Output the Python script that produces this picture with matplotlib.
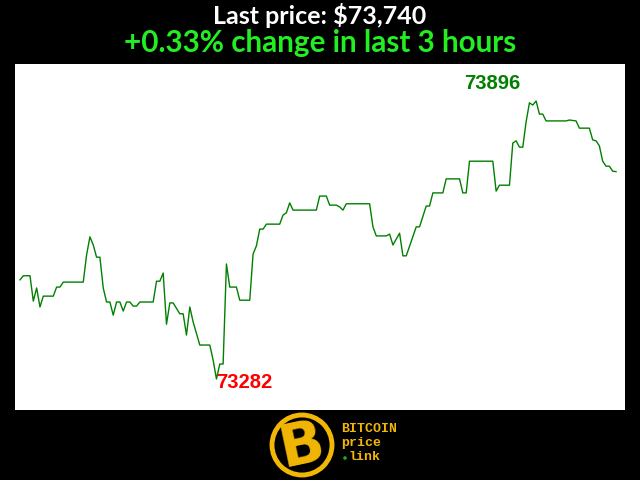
import matplotlib
matplotlib.use("Agg")
import matplotlib.pyplot as plt
from matplotlib.patches import Circle

# minutes since start (3 hours window) and BTC price
minutes = [0, 1, 3, 4, 5, 6, 7, 10, 11, 12, 13, 19, 20, 21, 22, 23, 24, 25, 26, 27,
           28, 29, 30, 31, 32, 33, 34, 35, 36, 40, 41, 42, 43, 44, 45, 46, 48, 49, 50, 51,
           52, 54, 57, 58, 59, 60, 61, 62, 63, 65, 66, 69, 70, 71, 72, 73, 74, 78, 79, 80,
           81, 82, 89, 90, 92, 93, 95, 96, 97, 98, 105, 106, 107, 110, 111, 112, 114, 115, 116, 119,
           120, 122, 123, 124, 127, 128, 132, 133, 134, 135, 142, 143, 144, 147, 148, 149, 150, 151, 152, 153,
           154, 155, 156, 157, 158, 164, 165, 167, 168, 171, 172, 173, 174, 175, 176, 177, 178, 179]
prices = [73501, 73510, 73510, 73454, 73483, 73441, 73465, 73465, 73485, 73485, 73496, 73496, 73556, 73596, 73578, 73551, 73551, 73483, 73452, 73452,
          73423, 73452, 73452, 73432, 73452, 73452, 73443, 73443, 73452, 73452, 73498, 73498, 73516, 73403, 73450, 73450, 73426, 73426, 73379, 73441,
          73408, 73357, 73357, 73324, 73282, 73315, 73315, 73536, 73485, 73485, 73456, 73456, 73558, 73576, 73613, 73613, 73624, 73624, 73644, 73649,
          73671, 73655, 73655, 73686, 73686, 73666, 73666, 73662, 73655, 73669, 73669, 73618, 73598, 73598, 73602, 73578, 73604, 73554, 73554, 73618,
          73618, 73664, 73664, 73693, 73693, 73724, 73724, 73693, 73693, 73763, 73763, 73697, 73710, 73710, 73803, 73808, 73794, 73794, 73850, 73892,
          73887, 73896, 73867, 73867, 73852, 73852, 73854, 73852, 73836, 73836, 73810, 73808, 73797, 73763, 73752, 73752, 73741, 73740]

title_line1 = "Last price: $73,740"
title_line2 = "+0.33% change in last 3 hours"
logo_lines = ["BITCOIN", "price", "link"]

W, H = 640, 480
fig = plt.figure(figsize=(W / 100, H / 100), dpi=100, facecolor="black")
ax = fig.add_axes([15 / W, 70 / H, 610 / W, 346 / H])
ax.set_facecolor("white")
ax.plot(minutes, prices, color="#008000", lw=1.0)
ax.set_xlim(-1.5, 181.7)
ax.set_ylim(73213.5, 73977.7)
ax.set_xticks([])
ax.set_yticks([])
for s in ax.spines.values():
    s.set_visible(False)

imax = prices.index(max(prices))
imin = prices.index(min(prices))
ax.annotate(str(max(prices)), (minutes[imax], prices[imax]), xytext=(-44, 17),
            textcoords="offset pixels", ha="center", va="center", color="#008000",
            fontsize=14.5, fontweight="bold", family="Liberation Sans")
ax.annotate(str(min(prices)), (minutes[imin], prices[imin]), xytext=(28, -4),
            textcoords="offset pixels", ha="center", va="center", color="#ff0000",
            fontsize=14.5, fontweight="bold", family="Liberation Sans")

fig.text(0.5, 1 - 16 / H, title_line1, ha="center", va="center", color="white",
         fontsize=18, fontweight="bold", family="Lato")
fig.text(0.5, 1 - 43 / H, title_line2, ha="center", va="center", color="#22ee22",
         fontsize=21.3, fontweight="bold", family="Lato")

# logo
orange = "#f2b705"
lax = fig.add_axes([0, 0, 1, 1], facecolor="none")
lax.set_xlim(0, W)
lax.set_ylim(H, 0)
lax.axis("off")
lax.add_patch(Circle((302, 445), 30, facecolor="none", edgecolor=orange, lw=3.5))
lax.text(302, 446, "B", ha="center", va="center", color=orange, fontsize=42,
         fontweight="bold", family="DejaVu Sans", rotation=12)
lax.text(341, 429, logo_lines[0], ha="left", va="center", color=orange, fontsize=9.5,
         fontweight="bold", family="Liberation Mono")
lax.text(341, 443, logo_lines[1], ha="left", va="center", color=orange, fontsize=9.5,
         fontweight="bold", family="Liberation Mono")
lax.text(349, 457, logo_lines[2], ha="left", va="center", color=orange, fontsize=9.5,
         fontweight="bold", family="Liberation Mono")
lax.add_patch(Circle((345, 458), 1.8, facecolor="#22aa22", edgecolor="none"))

fig.savefig("out.png", dpi=100, facecolor="black")
